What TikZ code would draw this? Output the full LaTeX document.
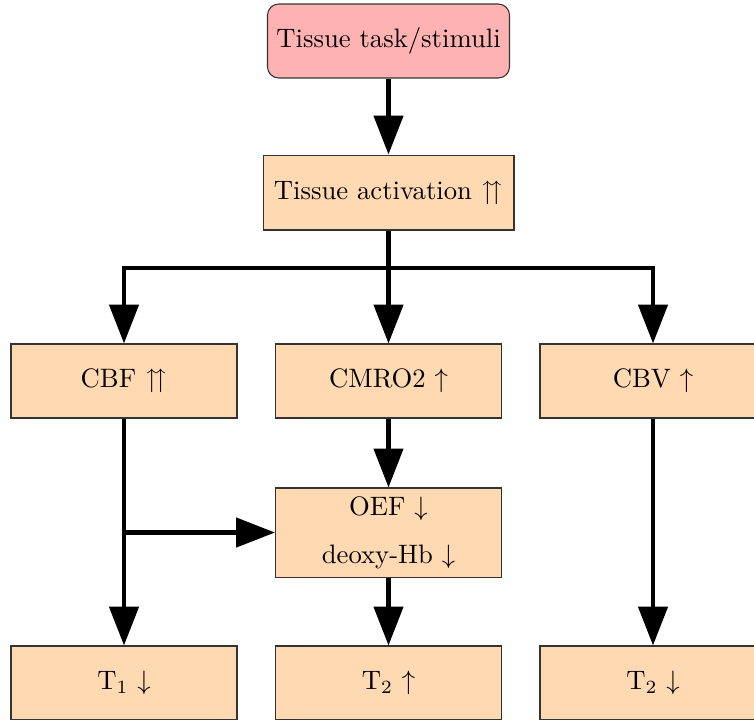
\documentclass[tikz,border=0pt]{standalone}
\usepackage{amssymb}
\usetikzlibrary{arrows.meta}
\begin{document}
\begin{tikzpicture}[x=0.375pt,y=-0.375pt,
  box/.style={draw=black!80,line width=0.4pt,fill=orange!30,minimum width=84.75pt,minimum height=27.75pt,inner sep=2pt,align=center,font=\normalsize},
  startbox/.style={box,fill=red!30,rounded corners=4.2pt,minimum width=90.75pt},
  conn/.style={line width=1.65pt},
  arr/.style={conn,-{Triangle[length=14.6pt,width=10.9pt]}}]
\useasboundingbox (0,0) rectangle (754,719);
\node[startbox] (task) at (388.5,41) {Tissue task/stimuli};
\node[box,minimum width=94.1pt,minimum height=28.1pt] (act) at (388.5,192.5) {Tissue activation $\upuparrows$};
\node[box] (cbf) at (124,381) {CBF $\upuparrows$};
\node[box] (cmro) at (388.5,381) {CMRO2 $\uparrow$};
\node[box] (cbv) at (653,381) {CBV $\uparrow$};
\node[box,minimum height=33.4pt] (oef) at (388.5,532.5) {OEF $\downarrow$\\[6pt]deoxy-Hb $\downarrow$};
\node[box] (t1) at (124,683) {T$_1$ $\downarrow$};
\node[box] (t2a) at (388.5,683) {T$_2$ $\uparrow$};
\node[box] (t2b) at (653,683) {T$_2$ $\downarrow$};
\coordinate (split) at (388.5,268);
\draw[arr] (task.south) -- (act.north);
\draw[conn] (act.south) -- (split);
\draw[arr] (split) -| (cbf.north);
\draw[arr] (split) -- (cmro.north);
\draw[arr] (split) -| (cbv.north);
\draw[arr] (cmro.south) -- (oef.north);
\draw[arr] (cbf.south) -- (t1.north);
\draw[arr] (cbf.south |- oef.west) -- (oef.west);
\draw[arr] (oef.south) -- (t2a.north);
\draw[arr] (cbv.south) -- (t2b.north);
\end{tikzpicture}
\end{document}
